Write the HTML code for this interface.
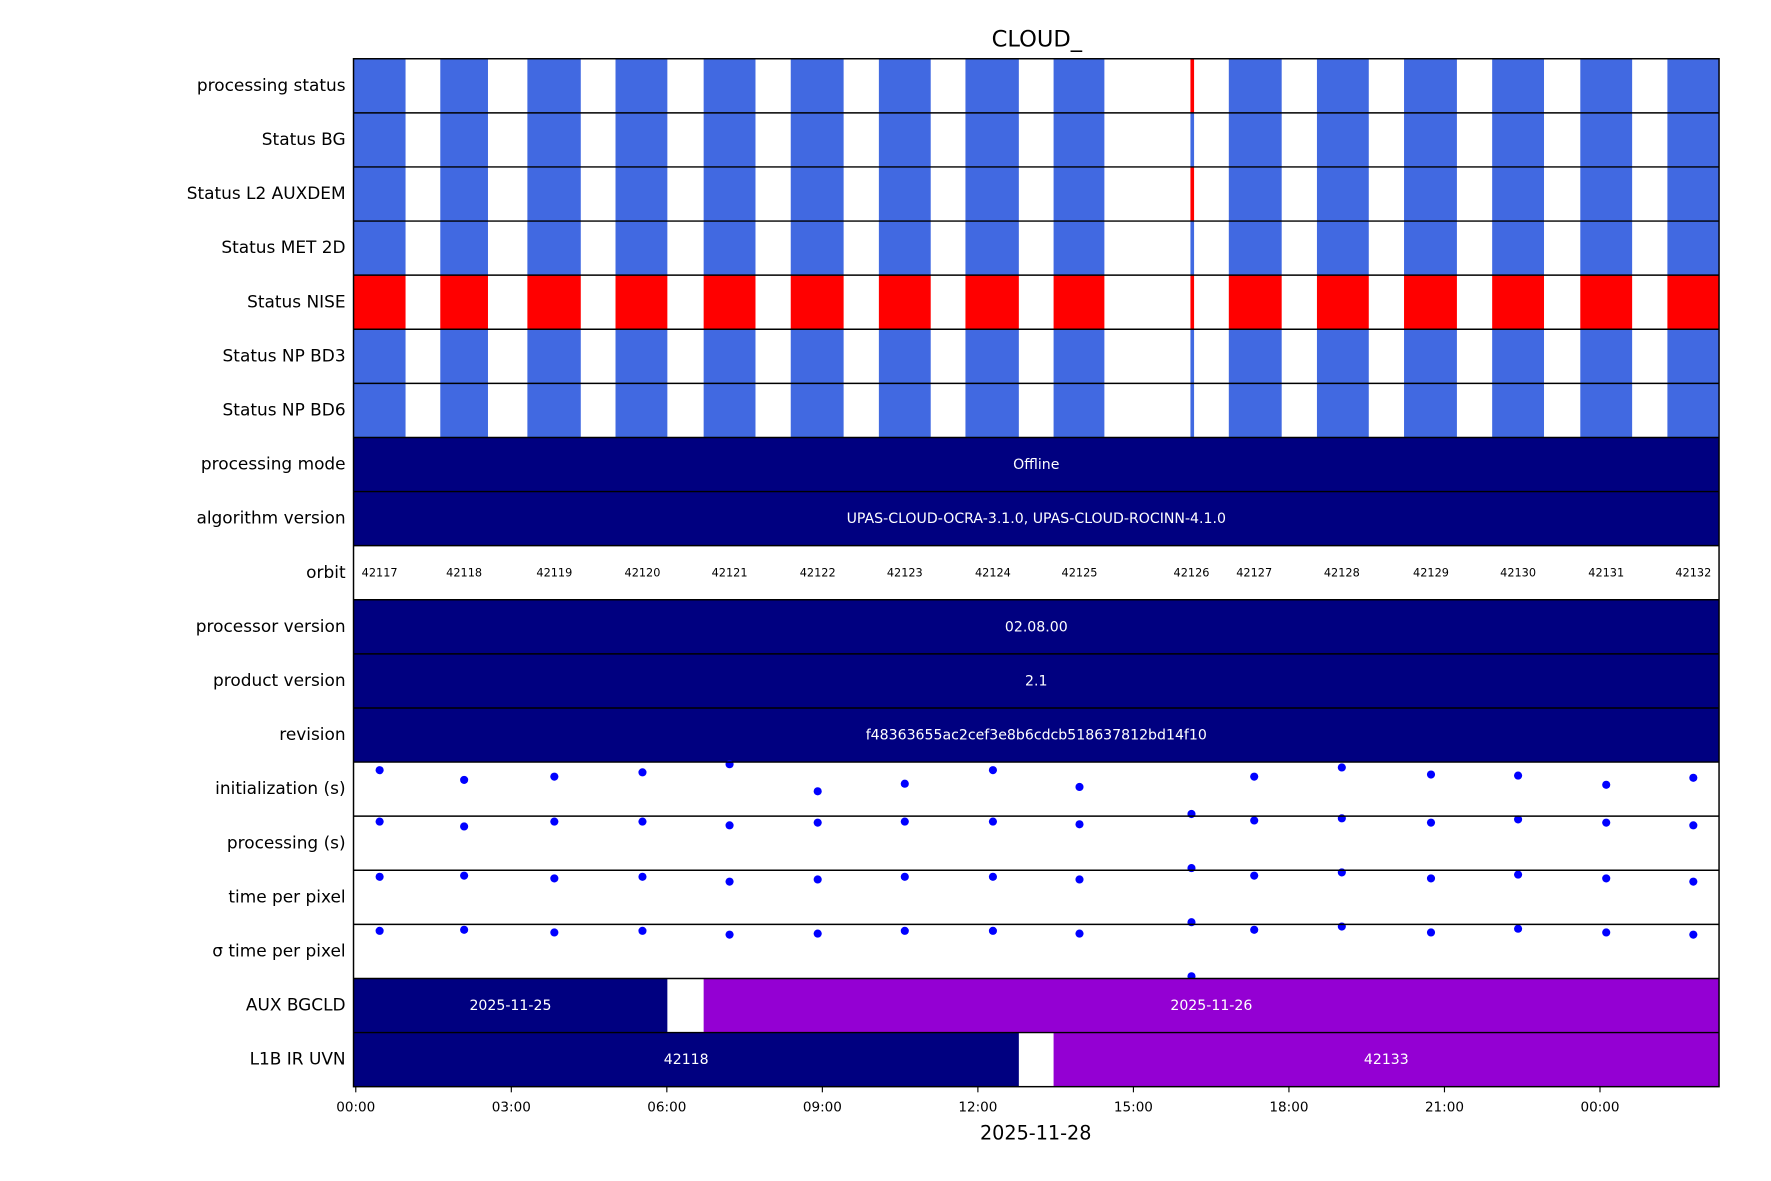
<!DOCTYPE html>
<html><head><meta charset="utf-8"><style>
body{margin:0;background:#fff}
svg{display:block;font-family:"DejaVu Sans","Liberation Sans",sans-serif}
</style></head><body>
<svg id="chart" width="1771" height="1181" viewBox="0 0 1568 1045.6" xmlns="http://www.w3.org/2000/svg" xml:space="preserve">
<rect width="1568" height="1045.6" fill="#fff"/>
<text x="918" y="41" font-size="20" text-anchor="middle">CLOUD_</text>
<g id="g"></g>
<text x="917" y="1009" font-size="17" text-anchor="middle">2025-11-28</text>
</svg>
<script>
const orbits=[42117,42118,42119,42120,42121,42122,42123,42124,42125,42126,42127,42128,42129,42130,42131,42132];
const orbitStart=[-0.04,1.63,3.31,5.01,6.71,8.39,10.09,11.76,13.46,16.10,16.84,18.54,20.22,21.92,23.62,25.30];
const orbitEnd=[0.96,2.55,4.34,6.01,7.71,9.41,11.09,12.79,14.44,16.17,17.86,19.54,21.24,22.92,24.62,26.3];
const orbitCenterHours=[0.46,2.09,3.83,5.53,7.21,8.91,10.59,12.29,13.96,16.12,17.33,19.02,20.74,22.42,24.12,25.80];
const rowLabels=["processing status","Status BG","Status L2  AUXDEM","Status MET 2D","Status NISE","Status NP BD3","Status NP BD6","processing mode","algorithm version","orbit","processor version","product version","revision","initialization (s)","processing (s)","time per pixel","\u03c3 time per pixel","AUX BGCLD","L1B IR UVN"];
const statusRed={"processing status":[42126],"Status BG":[],"Status L2  AUXDEM":[42126],"Status MET 2D":[],"Status NISE":orbits,"Status NP BD3":[],"Status NP BD6":[]};
const textRows={"processing mode":"Offline","algorithm version":"UPAS-CLOUD-OCRA-3.1.0, UPAS-CLOUD-ROCINN-4.1.0","processor version":"02.08.00","product version":"2.1","revision":"f48363655ac2cef3e8b6cdcb518637812bd14f10"};
const initVals=[85,67,73,81,96,46,60,85,54,4,73,90,77,75,58,71];
const procVals=[90,81,90,90,83,88,90,90,85,4,92,96,88,94,88,83];
const tppVals=[88,90,85,88,79,83,88,88,83,4,90,96,85,92,85,79];
const sigmaVals=[88,90,85,88,81,83,88,88,83,4,90,96,85,92,85,81];
const auxSegs=[{s:-0.05,e:6.01,label:"2025-11-25",c:"#000080"},{s:6.71,e:26.3,label:"2025-11-26",c:"#9400D3"}];
const l1bSegs=[{s:-0.05,e:12.79,label:"42118",c:"#000080"},{s:13.46,e:26.3,label:"42133",c:"#9400D3"}];
const tickHours=[0,3,6,9,12,15,18,21,24];
const tickLabels=["00:00","03:00","06:00","09:00","12:00","15:00","18:00","21:00","00:00"];

const L=313,R=1522,T=52,RH=47.9;
const x=h=>Math.max(L,Math.min(R,315+h*45.9));
const rowY=i=>T+i*RH;
const g=document.getElementById('g');
const NS="http://www.w3.org/2000/svg";
function mk(tag,attrs,parent){const e=document.createElementNS(NS,tag);for(const k in attrs)e.setAttribute(k,attrs[k]);(parent||g).appendChild(e);return e;}
function txt(x0,y0,s,size,anchor,fill){const t=mk('text',{x:x0,y:y0,'font-size':size,'text-anchor':anchor,fill:fill||'#000'});t.textContent=s;return t;}

rowLabels.forEach((lab,i)=>{
  const y=rowY(i);
  const l=txt(306,y+RH/2+4.5,lab,15,'end');
  
  
  if(lab in statusRed){
    orbits.forEach((o,j)=>{
      const r=mk('rect',{x:x(orbitStart[j]),y:y,width:x(orbitEnd[j])-x(orbitStart[j]),height:RH,fill:statusRed[lab].includes(o)?'#ff0000':'#4169e1'});
      
      
    });
  } else if(lab in textRows){
    const r=mk('rect',{x:L,y:y,width:R-L,height:RH,fill:'#000080'});
    
    
    const t=txt((L+R)/2,y+RH/2+4,textRows[lab],12.5,'middle','#fff');
    
    
  } else if(lab==="orbit"){
    orbits.forEach((o,j)=>{
      const t=txt(x(orbitCenterHours[j]),y+RH/2+3.5,String(o),10,'middle');
      
      
    });
  } else if(lab==="AUX BGCLD"||lab==="L1B IR UVN"){
    const segs=lab==="AUX BGCLD"?auxSegs:l1bSegs;
    segs.forEach((s,k)=>{
      const r=mk('rect',{x:x(s.s),y:y,width:x(s.e)-x(s.s),height:RH,fill:s.c});
      
      
      const t=txt((x(s.s)+x(s.e))/2,y+RH/2+4,s.label,12.5,'middle','#fff');
      
      
    });
  } else {
    const vals={"initialization (s)":initVals,"processing (s)":procVals,"time per pixel":tppVals}[lab]||sigmaVals;
    vals.forEach((v,j)=>{
      const c=mk('circle',{cx:x(orbitCenterHours[j]),cy:y+RH-v/100*RH,r:3.6,fill:'#0000ff'});
      
      
    });
  }
});
for(let i=1;i<rowLabels.length;i++){
  const ln=mk('line',{x1:L,x2:R,y1:rowY(i),y2:rowY(i),stroke:'#000','stroke-width':1.3});
  
  
}
const fr=mk('rect',{x:L,y:T,width:R-L,height:RH*rowLabels.length,fill:'none',stroke:'#000','stroke-width':1.3});


const yb=T+RH*rowLabels.length;
tickHours.forEach((h,k)=>{
  const tl=mk('line',{x1:x(h),x2:x(h),y1:yb,y2:yb+5,stroke:'#000','stroke-width':1});
  
  
  const t=txt(x(h),yb+22,tickLabels[k],12,'middle');
  
  
});
</script>
</body></html>
